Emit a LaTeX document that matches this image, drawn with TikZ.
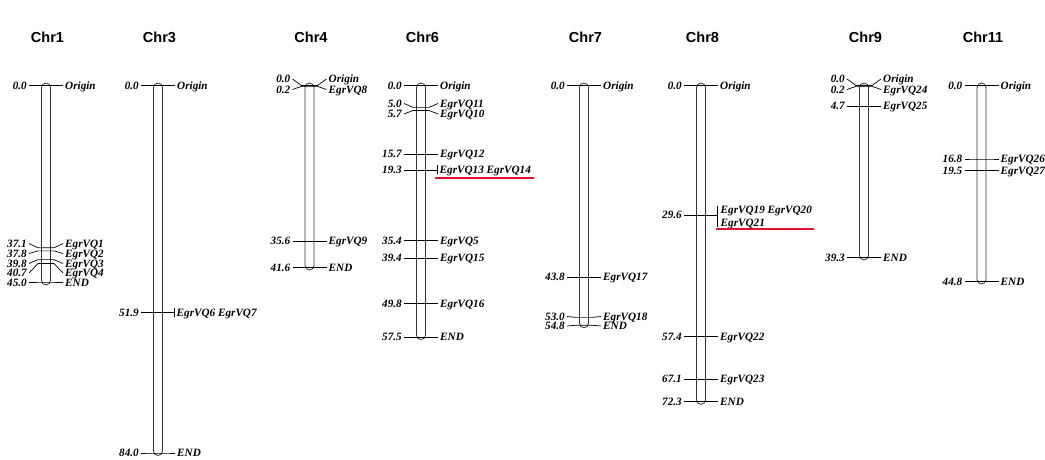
\documentclass[tikz,border=0pt]{standalone}
\usepackage{fontspec}
\setmainfont{Liberation Serif}
\newfontfamily\titlefont{Liberation Sans}
\definecolor{hlred}{RGB}{232,16,48}

% map position (cM) -> vertical canvas coordinate
\newcommand\mpos[1]{(85.5+4.375*(#1))}

% one locus: name, bar centre, position, label row, left text, right text
\newcommand\locus[6]{%
  \node[numlab] (#1l) at ({#2-17},{#4}) {#5};
  \node[genelab] (#1r) at ({#2+17},{#4}) {#6};
  \draw[tick] (#1l.east) -- ({#2-8},{\mpos{#3}}) -- ({#2+8},{\mpos{#3}}) -- (#1r.west);}

% one chromosome bar with its title: name, bar centre, length, title
\newcommand\chromosome[4]{%
  \draw[chrombar] ({#2-4.5},{\mpos{0}-2.5}) rectangle ({#2+4.5},{\mpos{#3}+2.5});
  \node[title] (#1t) at ({#2+1.5},37) {#4};}

\begin{document}
\begin{tikzpicture}[x=1pt,y=-1pt,
  chrombar/.style={draw=black!80, line width=0.8pt, rounded corners=4.5pt},
  tick/.style={line width=0.7pt},
  lab/.style={font=\fontsize{11.2}{13}\selectfont\bfseries\itshape,
    inner ysep=0pt, inner xsep=2pt, text height=7.3pt, text depth=0pt},
  numlab/.style={lab, anchor=east},
  genelab/.style={lab, anchor=west},
  title/.style={font=\titlefont\bfseries\fontsize{14.5}{14.5}\selectfont, inner sep=0pt},
  hl/.style={draw=hlred, line width=2pt}]
\useasboundingbox (0,0) rectangle (1045,459);

% Chr1
\chromosome{c1}{46}{45.0}{Chr1}
\locus{c1a}{46}{0}{\mpos{0}}{0.0}{Origin}
\locus{c1b}{46}{37.1}{243.5}{37.1}{EgrVQ1}
\locus{c1c}{46}{37.8}{253.5}{37.8}{EgrVQ2}
\locus{c1d}{46}{39.8}{263.5}{39.8}{EgrVQ3}
\locus{c1e}{46}{40.7}{273}{40.7}{EgrVQ4}
\locus{c1f}{46}{45.0}{282.5}{45.0}{END}

% Chr3
\chromosome{c3}{158}{84.0}{Chr3}
\locus{c3a}{158}{0}{\mpos{0}}{0.0}{Origin}
\node[numlab] (c3bl) at (141,{\mpos{51.9}}) {51.9};
\node[genelab, inner xsep=2.5pt] (c3br) at (174,{\mpos{51.9}}) {EgrVQ6 EgrVQ7};
\draw[tick] (c3bl.east) -- (c3br.west);
\draw[tick] ([yshift=-4.5pt]c3br.west) -- ([yshift=4.5pt]c3br.west);
\locus{c3c}{158}{84.0}{\mpos{84.0}}{84.0}{END}

% Chr4
\chromosome{c4}{309.5}{41.6}{Chr4}
\locus{c4a}{309.5}{0}{79}{0.0}{Origin}
\locus{c4b}{309.5}{0.2}{89.5}{0.2}{EgrVQ8}
\locus{c4c}{309.5}{35.6}{\mpos{35.6}}{35.6}{EgrVQ9}
\locus{c4d}{309.5}{41.6}{\mpos{41.6}}{41.6}{END}

% Chr6
\chromosome{c6}{421}{57.5}{Chr6}
\locus{c6a}{421}{0}{\mpos{0}}{0.0}{Origin}
\locus{c6b}{421}{5.0}{103.5}{5.0}{EgrVQ11}
\locus{c6c}{421}{5.7}{114}{5.7}{EgrVQ10}
\locus{c6d}{421}{15.7}{\mpos{15.7}}{15.7}{EgrVQ12}
\node[numlab] (c6el) at (404,{\mpos{19.3}}) {19.3};
\node[genelab, inner xsep=2.5pt] (c6er) at (437,{\mpos{19.3}}) {EgrVQ13 EgrVQ14};
\draw[tick] (c6el.east) -- (c6er.west);
\draw[tick] ([yshift=-4.5pt]c6er.west) -- ([yshift=4.5pt]c6er.west);
\draw[hl] (435,178) -- (534,178);
\locus{c6f}{421}{35.4}{\mpos{35.4}}{35.4}{EgrVQ5}
\locus{c6g}{421}{39.4}{\mpos{39.4}}{39.4}{EgrVQ15}
\locus{c6h}{421}{49.8}{\mpos{49.8}}{49.8}{EgrVQ16}
\locus{c6i}{421}{57.5}{\mpos{57.5}}{57.5}{END}

% Chr7
\chromosome{c7}{584}{54.8}{Chr7}
\locus{c7a}{584}{0}{\mpos{0}}{0.0}{Origin}
\locus{c7b}{584}{43.8}{\mpos{43.8}}{43.8}{EgrVQ17}
\locus{c7c}{584}{53.0}{316.5}{53.0}{EgrVQ18}
\locus{c7d}{584}{54.8}{326}{54.8}{END}

% Chr8
\chromosome{c8}{701}{72.3}{Chr8}
\locus{c8a}{701}{0}{\mpos{0}}{0.0}{Origin}
\node[numlab] (c8bl) at (684,{\mpos{29.6}}) {29.6};
\coordinate (c8bj) at (717,{\mpos{29.6}});
\coordinate (c8bt) at (717,206);
\coordinate (c8bb) at (717,227);
\draw[tick] (c8bl.east) -- (c8bj);
\draw[tick] (c8bt) -- (c8bb);
\node[font=\fontsize{11.2}{13}\selectfont\bfseries\itshape, align=left, inner sep=0pt,
  anchor=north west] (c8br) at (720.5,206.3) {EgrVQ19 EgrVQ20\\EgrVQ21};
\draw[hl] (716,229) -- (814,229);
\locus{c8c}{701}{57.4}{\mpos{57.4}}{57.4}{EgrVQ22}
\locus{c8d}{701}{67.1}{\mpos{67.1}}{67.1}{EgrVQ23}
\locus{c8e}{701}{72.3}{\mpos{72.3}}{72.3}{END}

% Chr9
\chromosome{c9}{864}{39.3}{Chr9}
\locus{c9a}{864}{0}{79}{0.0}{Origin}
\locus{c9b}{864}{0.2}{89.5}{0.2}{EgrVQ24}
\locus{c9c}{864}{4.7}{\mpos{4.7}}{4.7}{EgrVQ25}
\locus{c9d}{864}{39.3}{\mpos{39.3}}{39.3}{END}

% Chr11
\chromosome{c11}{981.5}{44.8}{Chr11}
\locus{c11a}{981.5}{0}{\mpos{0}}{0.0}{Origin}
\locus{c11b}{981.5}{16.8}{\mpos{16.8}}{16.8}{EgrVQ26}
\locus{c11c}{981.5}{19.5}{\mpos{19.5}}{19.5}{EgrVQ27}
\locus{c11d}{981.5}{44.8}{\mpos{44.8}}{44.8}{END}
\end{tikzpicture}
\end{document}
